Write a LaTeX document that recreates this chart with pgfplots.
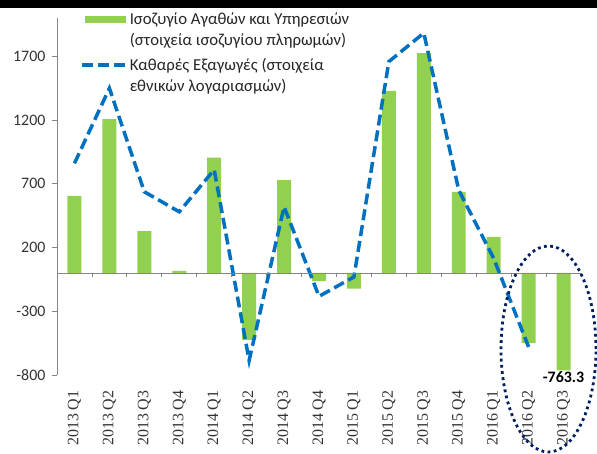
\documentclass[border=0pt]{standalone}
\usepackage{fontspec}
\setmainfont{Carlito}
\newfontfamily\xlfont{Liberation Serif}
\usepackage{pgfplots}
\pgfplotsset{compat=1.18}

\definecolor{barg}{RGB}{146,208,80}
\definecolor{lineb}{RGB}{0,112,192}
\definecolor{navy}{RGB}{0,32,96}
\definecolor{axgray}{RGB}{134,134,134}

\begin{document}
\begin{tikzpicture}
\useasboundingbox (0,0) rectangle (597bp,454bp);
\clip (0,0) rectangle (597bp,454bp);
\begin{axis}[
  at={(57bp,79bp)}, anchor=south west,
  scale only axis, width=524bp, height=357bp,
  xmin=-0.5, xmax=14.5, ymin=-800, ymax=2000,
  clip=false,
  axis lines*=left,
  x axis line style={draw=none},
  y axis line style={axgray, line width=0.8bp},
  xtick={0,...,14},
  xticklabels={2013 Q1,2013 Q2,2013 Q3,2013 Q4,2014 Q1,2014 Q2,2014 Q3,2014 Q4,
    2015 Q1,2015 Q2,2015 Q3,2015 Q4,2016 Q1,2016 Q2,2016 Q3},
  xticklabel style={font=\xlfont\fontsize{16}{16}\selectfont, rotate=90, anchor=east, text=black!80},
  xticklabel shift=7bp,
  major x tick style={draw=none},
  ytick={-800,-300,200,700,1200,1700},
  yticklabels={-800,-300,200,700,1200,1700},
  yticklabel style={font=\fontsize{16}{16}\selectfont, text=black!80, xshift=-3bp},
  major y tick style={axgray, line width=0.8bp},
  tick align=outside, major tick length=5bp,
  legend style={at={(rel axis cs:0.044,1.017)}, anchor=north west, draw=none, fill=none,
    inner sep=0pt, row sep=9bp, column sep=1bp,
    font=\fontsize{16.8}{21}\selectfont, text=black!85,
    cells={anchor=west, align=left}, nodes={inner sep=1bp}},
]
\addplot[ybar, bar width=0.4, fill=barg, draw=none,
  legend image code/.code={
    \path[draw=none, fill=none] (0bp,-14bp) rectangle (44bp,14bp);
    \fill[barg] (3bp,7bp) rectangle (44bp,14bp);}]
  coordinates {
  (0,605) (1,1206) (2,328) (3,16) (4,904) (5,-524) (6,729) (7,-63)
  (8,-123) (9,1428) (10,1724) (11,637) (12,283) (13,-550) (14,-763.3)
};
\addlegendentry{{Ισοζυγίο Αγαθών και Υπηρεσιών\\(στοιχεία ισοζυγίου πληρωμών)}}

\addplot[lineb, line width=3.5bp, dash pattern=on 11bp off 5bp,
  legend image code/.code={
    \path[draw=none, fill=none] (0bp,-12.5bp) -- (0bp,12.5bp);
    \draw[lineb, line width=3.5bp, dash pattern=on 11bp off 5bp] (0bp,10.5bp) -- (44bp,10.5bp);}]
  coordinates {
  (0,860) (1,1449) (2,637) (3,480) (4,810) (5,-686) (6,519) (7,-183)
  (8,-31) (9,1658) (10,1882) (11,650) (12,115) (13,-580)
};
\addlegendentry{{Καθαρές Εξαγωγές (στοιχεία\\εθνικών λογαριασμών)}}

\draw[axgray, line width=0.8bp] (axis cs:-0.5,0) -- (axis cs:14.5,0);
\pgfplotsinvokeforeach{0.5,1.5,...,14.5}{
  \draw[axgray, line width=0.8bp] (axis cs:#1,0) -- ([yshift=-4bp]axis cs:#1,0);
}
\node[anchor=north, inner sep=1.5bp, font=\bfseries\fontsize{16}{16}\selectfont]
  at (axis cs:14,-763.3) {-763.3};
\end{axis}
\draw[navy, line width=2.8bp, dash pattern=on 2.8bp off 3.4bp]
  (548.5bp,105bp) ellipse [x radius=47.5bp, y radius=103bp];
\fill[black] (0,446bp) rectangle (597bp,454bp);
\end{tikzpicture}
\end{document}
